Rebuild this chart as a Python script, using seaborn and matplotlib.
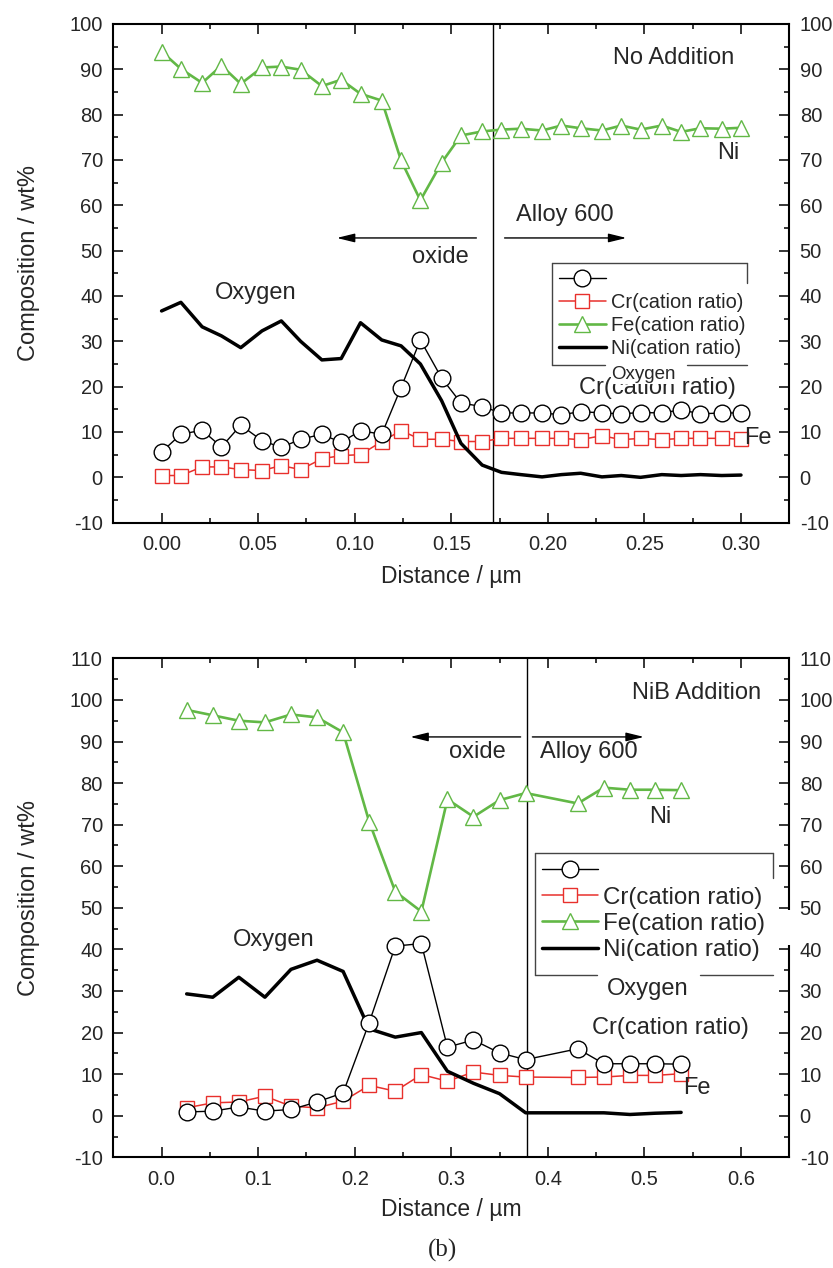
import matplotlib
matplotlib.use('Agg')
import matplotlib.pyplot as plt
import seaborn as sns
from matplotlib.ticker import MultipleLocator, FormatStrFormatter
from matplotlib.patches import Rectangle

# ---- panel 1: No Addition ----
dist_a = [0.000, 0.010, 0.021, 0.031, 0.041, 0.052, 0.062, 0.072, 0.083, 0.093,
          0.103, 0.114, 0.124, 0.134, 0.145, 0.155, 0.166, 0.176, 0.186, 0.197,
          0.207, 0.217, 0.228, 0.238, 0.248, 0.259, 0.269, 0.279, 0.290, 0.300]
circ_a = [5.6, 9.5, 10.4, 6.7, 11.5, 8.1, 6.6, 8.4, 9.5, 7.7,
          10.3, 9.5, 19.8, 30.3, 21.9, 16.4, 15.6, 14.2, 14.2, 14.2,
          13.8, 14.5, 14.2, 14.0, 14.3, 14.2, 14.9, 14.0, 14.2, 14.2]
cr_a = [0.4, 0.4, 2.3, 2.3, 1.7, 1.5, 2.6, 1.7, 4.1, 4.8,
        5.0, 7.9, 10.3, 8.4, 8.4, 7.9, 7.9, 8.6, 8.6, 8.6,
        8.6, 8.3, 9.2, 8.3, 8.6, 8.3, 8.6, 8.6, 8.6, 8.4]
fe_a = [93.9, 90.1, 87.0, 90.8, 86.8, 90.4, 90.6, 89.9, 86.3, 87.7,
        84.6, 83.1, 69.9, 61.1, 69.4, 75.4, 76.3, 76.7, 76.9, 76.5,
        77.6, 77.0, 76.5, 77.6, 76.7, 77.6, 76.2, 77.0, 76.9, 77.1]
oxy_a = [36.7, 38.6, 33.2, 31.2, 28.6, 32.3, 34.5, 30.0, 25.9, 26.2,
         34.1, 30.3, 29.0, 25.0, 16.9, 7.5, 2.7, 1.1, 0.6, 0.1,
         0.6, 0.9, 0.1, 0.4, 0.0, 0.6, 0.4, 0.6, 0.4, 0.5]

# ---- panel 2: NiB Addition ----
dist_b = [0.026, 0.053, 0.080, 0.107, 0.134, 0.161, 0.188, 0.215, 0.242, 0.269,
          0.296, 0.323, 0.350, 0.377, 0.431, 0.458, 0.485, 0.511, 0.538]
circ_b = [0.9, 1.1, 2.1, 1.1, 1.5, 3.3, 5.5, 22.4, 40.8, 41.4,
          16.5, 18.2, 15.1, 13.5, 16.1, 12.5, 12.5, 12.5, 12.4]
cr_b = [1.9, 3.1, 3.3, 4.7, 2.3, 1.9, 3.5, 7.3, 5.9, 9.9,
        8.3, 10.5, 9.7, 9.3, 9.2, 9.3, 9.7, 9.7, 10.1]
fe_b = [97.6, 96.3, 95.0, 94.6, 96.5, 95.8, 92.2, 70.7, 53.9, 49.1,
        76.1, 71.9, 75.9, 77.6, 75.1, 78.9, 78.4, 78.4, 78.3]
oxy_b = [29.3, 28.5, 33.3, 28.5, 35.2, 37.4, 34.7, 20.9, 18.9, 20.0,
         10.7, 7.8, 5.3, 0.7, 0.7, 0.7, 0.3, 0.6, 0.8]

legend_labels = ['', 'Cr(cation ratio)', 'Fe(cation ratio)', 'Ni(cation ratio)']

sns.set_style('ticks')
plt.rcParams['font.family'] = ['Liberation Sans', 'DejaVu Sans']
plt.rcParams['axes.unicode_minus'] = False

GREEN = '#62b846'
RED = '#e8302c'

fig = plt.figure(figsize=(8.33, 12.68), dpi=100)
ax1 = fig.add_axes([0.136, 0.5878, 0.8115, 0.3933])
ax2 = fig.add_axes([0.136, 0.0873, 0.8115, 0.3935])


def draw_series(ax, x, circ, cr, fe, oxy):
    sns.lineplot(x=x, y=circ, ax=ax, color='black', linewidth=1.0, marker='o',
                 markersize=12, markerfacecolor='white', markeredgecolor='black',
                 markeredgewidth=1.0, errorbar=None, zorder=4)
    sns.lineplot(x=x, y=cr, ax=ax, color=RED, linewidth=1.1, marker='s',
                 markersize=9.5, markerfacecolor='white', markeredgecolor=RED,
                 markeredgewidth=1.0, errorbar=None, zorder=3)
    sns.lineplot(x=x, y=fe, ax=ax, color=GREEN, linewidth=1.9, marker='^',
                 markersize=11.5, markerfacecolor='white', markeredgecolor=GREEN,
                 markeredgewidth=1.0, errorbar=None, zorder=3)
    sns.lineplot(x=x, y=oxy, ax=ax, color='black', linewidth=2.5,
                 errorbar=None, zorder=3)
    return list(ax.lines[:4])


def style_axes(ax, xlim, ylim, xmaj, xmin, fmt):
    ax.set_xlim(*xlim)
    ax.set_ylim(*ylim)
    ax.xaxis.set_major_locator(MultipleLocator(xmaj))
    ax.xaxis.set_minor_locator(MultipleLocator(xmin))
    ax.xaxis.set_major_formatter(FormatStrFormatter(fmt))
    ax.yaxis.set_major_locator(MultipleLocator(10))
    ax.yaxis.set_minor_locator(MultipleLocator(5))
    ax.tick_params(which='both', direction='in', top=True, right=True,
                   labelright=True, width=1.1, labelsize=14.5, color='black')
    ax.tick_params(which='major', length=7)
    ax.tick_params(which='minor', length=3.8)
    ax.tick_params(axis='x', pad=9)
    ax.tick_params(axis='y', pad=7.5)
    for s in ax.spines.values():
        s.set_linewidth(1.5)
        s.set_color('black')
    ax.set_xlabel('Distance / \u00b5m', fontsize=16.5)
    ax.set_ylabel('Composition / wt%', fontsize=17)
    ax.yaxis.set_label_coords(-0.108, 0.52)


def arrow(ax, tail, head):
    ax.annotate('', xy=head, xytext=tail,
                arrowprops=dict(arrowstyle='-|>,head_length=0.9,head_width=0.22',
                                color='black', lw=1.0, mutation_scale=12,
                                shrinkA=0, shrinkB=0))


def legend_box(ax, x0, x1, y0, y1, gap, right_end):
    kw = dict(transform=ax.transAxes, color='#444444', lw=1.0, clip_on=False, zorder=6)
    ax.plot([x0, x1], [y1, y1], **kw)
    ax.plot([x0, x0], [y0, y1], **kw)
    ax.plot([x1, x1], [right_end, y1], **kw)
    ax.plot([x0, gap[0]], [y0, y0], **kw)
    ax.plot([gap[1], x1], [y0, y0], **kw)


# ---------------- top panel ----------------
h1 = draw_series(ax1, dist_a, circ_a, cr_a, fe_a, oxy_a)
style_axes(ax1, (-0.025, 0.325), (-10, 100), 0.05, 0.025, '%.2f')
ax1.xaxis.set_label_coords(0.5, -0.085)
ax1.axvline(0.1714, color='black', lw=1.0, zorder=2)
arrow(ax1, (0.163, 52.8), (0.0907, 52.8))
arrow(ax1, (0.1776, 52.8), (0.2407, 52.8))
ax1.text(0.1445, 48.6, 'oxide', fontsize=17, ha='center', va='center')
ax1.text(0.209, 57.9, 'Alloy 600', fontsize=17, ha='center', va='center')
ax1.text(0.265, 92.5, 'No Addition', fontsize=17, ha='center', va='center')
ax1.text(0.2935, 71.5, 'Ni', fontsize=17, ha='center', va='center')
ax1.text(0.0488, 40.7, 'Oxygen', fontsize=17, ha='center', va='center')
ax1.text(0.257, 19.7, 'Cr(cation ratio)', fontsize=17, ha='center', va='center')
ax1.text(0.309, 8.7, 'Fe', fontsize=17, ha='center', va='center')
ax1.text(0.2496, 22.6, 'Oxygen', fontsize=13.5, ha='center', va='center', zorder=7,
         bbox=dict(facecolor='white', edgecolor='none', pad=0.5))
ax1.legend(h1, legend_labels, loc='upper left', bbox_to_anchor=(0.649, 0.5208),
           frameon=False, borderaxespad=0, borderpad=0.35, fontsize=14.4,
           handlelength=2.35, handletextpad=0.25, labelspacing=0.2)
legend_box(ax1, 0.649, 0.938, 0.316, 0.5208, (0.727, 0.849), 0.4806)

# ---------------- bottom panel ----------------
h2 = draw_series(ax2, dist_b, circ_b, cr_b, fe_b, oxy_b)
style_axes(ax2, (-0.05, 0.65), (-10, 110), 0.1, 0.05, '%.1f')
ax2.xaxis.set_label_coords(0.5, -0.081)
ax2.axvline(0.3787, color='black', lw=1.0, zorder=2)
arrow(ax2, (0.3718, 91.1), (0.2575, 91.1))
arrow(ax2, (0.384, 91.1), (0.4995, 91.1))
ax2.text(0.327, 87.5, 'oxide', fontsize=17, ha='center', va='center')
ax2.text(0.442, 87.5, 'Alloy 600', fontsize=17, ha='center', va='center')
ax2.text(0.554, 101.7, 'NiB Addition', fontsize=17, ha='center', va='center')
ax2.text(0.516, 71.8, 'Ni', fontsize=17, ha='center', va='center')
ax2.text(0.1158, 42.3, 'Oxygen', fontsize=17, ha='center', va='center')
ax2.text(0.5265, 21.1, 'Cr(cation ratio)', fontsize=17, ha='center', va='center')
ax2.text(0.554, 6.7, 'Fe', fontsize=17, ha='center', va='center')
ax2.text(0.503, 30.5, 'Oxygen', fontsize=17, ha='center', va='center', zorder=7)
ax2.legend(h2, legend_labels, loc='upper left', bbox_to_anchor=(0.624, 0.610),
           frameon=False, borderaxespad=0, borderpad=0.3, fontsize=17.4,
           handlelength=2.3, handletextpad=0.2, labelspacing=0.18)
legend_box(ax2, 0.624, 0.9755, 0.365, 0.610, (0.716, 0.868), 0.5597)
# break in the right spine behind the legend
ax2.add_patch(Rectangle((0.985, 0.425), 0.03, 0.07, transform=ax2.transAxes,
                        facecolor='white', edgecolor='none', clip_on=False, zorder=8))

fig.text(0.531, 1 - 1250 / 1268, '(b)', family='Liberation Serif', fontsize=18,
         ha='center', va='center')

plt.savefig('out.png', dpi=100)
